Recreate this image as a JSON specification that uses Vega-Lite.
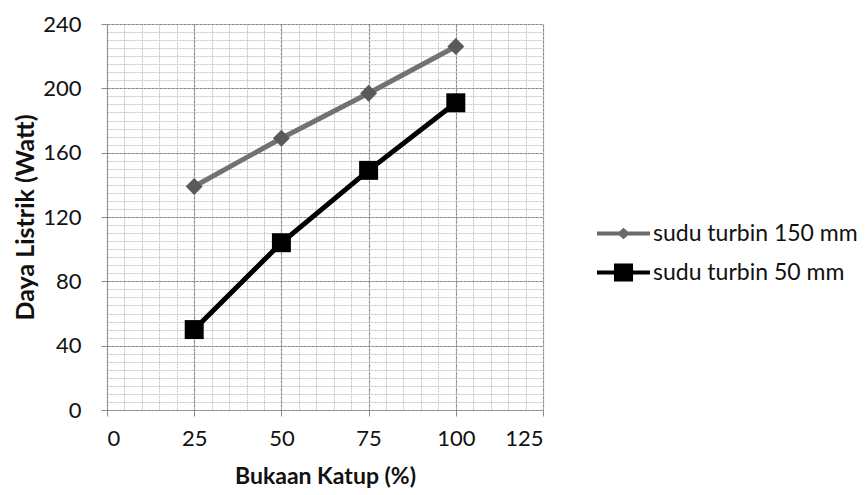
{
  "$schema": "https://vega.github.io/schema/vega-lite/v6.json",
  "width": 436,
  "height": 386,
  "autosize": {"type": "none"},
  "padding": {"left": 107, "top": 24, "right": 322, "bottom": 85},
  "background": "white",
  "config": {
    "view": {"stroke": null},
    "font": "Lato",
    "axis": {"labelFont": "Lato", "titleFont": "Lato"}
  },
  "data": {
    "values": [
      {"series": "sudu turbin 150 mm", "bukaan": 25, "daya": 139},
      {"series": "sudu turbin 150 mm", "bukaan": 50, "daya": 169},
      {"series": "sudu turbin 150 mm", "bukaan": 75, "daya": 197},
      {"series": "sudu turbin 150 mm", "bukaan": 100, "daya": 226},
      {"series": "sudu turbin 50 mm", "bukaan": 25, "daya": 50},
      {"series": "sudu turbin 50 mm", "bukaan": 50, "daya": 104},
      {"series": "sudu turbin 50 mm", "bukaan": 75, "daya": 149},
      {"series": "sudu turbin 50 mm", "bukaan": 100, "daya": 191}
    ]
  },
  "resolve": {"axis": {"x": "independent", "y": "independent"}},
  "layer": [
    {
      "transform": [{"filter": "datum.series === 'sudu turbin 150 mm'"}],
      "mark": {"type": "line", "strokeWidth": 5, "color": "#727272"},
      "encoding": {
        "x": {"field": "bukaan", "type": "quantitative", "scale": {"domain": [0, 125], "nice": false},
          "axis": {"orient": "bottom", "values": [0,5,10,15,20,25,30,35,40,45,50,55,60,65,70,75,80,85,90,95,100,105,110,115,120,125],
            "labels": false, "ticks": false, "domain": false, "title": null,
            "grid": true, "gridColor": "#c4c4c4", "gridDash": [2, 1], "gridWidth": 1}},
        "y": {"field": "daya", "type": "quantitative", "scale": {"domain": [0, 240], "nice": false},
          "axis": {"orient": "left", "values": [0,5,10,15,20,25,30,35,40,45,50,55,60,65,70,75,80,85,90,95,100,105,110,115,120,125,130,135,140,145,150,155,160,165,170,175,180,185,190,195,200,205,210,215,220,225,230,235,240],
            "labels": false, "ticks": false, "domain": false, "title": null,
            "grid": true, "gridColor": "#c4c4c4", "gridDash": [2, 1], "gridWidth": 1}}
      }
    },
    {
      "transform": [{"filter": "datum.series === 'sudu turbin 50 mm'"}],
      "mark": {"type": "line", "strokeWidth": 5, "color": "#000000"},
      "encoding": {
        "x": {"field": "bukaan", "type": "quantitative", "axis": null},
        "y": {"field": "daya", "type": "quantitative", "axis": null}
      }
    },
    {
      "transform": [{"filter": "datum.series === 'sudu turbin 150 mm'"}],
      "mark": {"type": "point", "shape": "diamond", "filled": true, "opacity": 1, "size": 289, "color": "#5a5a5a"},
      "encoding": {
        "x": {"field": "bukaan", "type": "quantitative",
          "axis": {"orient": "bottom", "values": [0, 25, 50, 75, 100, 125],
            "labelFontSize": 22, "labelColor": "#111", "labelPadding": 12,
            "ticks": true, "tickColor": "#8c8c8c", "tickSize": 6,
            "domain": true, "domainColor": "#8c8c8c", "domainDash": [3, 1],
            "grid": true, "gridColor": "#8c8c8c", "gridDash": [3, 1], "gridWidth": 1.2,
            "title": "Bukaan Katup (%)", "titleFontSize": 23, "titleFontWeight": "bold", "titleColor": "#111", "titlePadding": 16}},
        "y": {"field": "daya", "type": "quantitative",
          "axis": {"orient": "left", "values": [0, 40, 80, 120, 160, 200, 240],
            "labelFontSize": 22, "labelColor": "#111", "labelPadding": 20,
            "ticks": true, "tickColor": "#8c8c8c", "tickSize": 6,
            "domain": true, "domainColor": "#8c8c8c", "domainDash": [3, 1],
            "grid": true, "gridColor": "#8c8c8c", "gridDash": [3, 1], "gridWidth": 1.2,
            "title": "Daya Listrik (Watt)", "titleFontSize": 25, "titleFontWeight": "bold", "titleColor": "#111", "titlePadding": 4}}
      }
    },
    {
      "transform": [{"filter": "datum.series === 'sudu turbin 50 mm'"}],
      "mark": {"type": "point", "shape": "square", "filled": true, "opacity": 1, "size": 360, "color": "#000000"},
      "encoding": {
        "x": {"field": "bukaan", "type": "quantitative", "axis": null},
        "y": {"field": "daya", "type": "quantitative", "axis": null}
      }
    },
    {
      "transform": [{"filter": "datum.daya < 0"}],
      "mark": {"type": "point", "filled": true, "opacity": 1},
      "encoding": {
        "x": {"field": "bukaan", "type": "quantitative", "axis": null},
        "y": {"field": "daya", "type": "quantitative", "axis": null},
        "fill": {"field": "series", "type": "nominal",
          "scale": {"domain": ["sudu turbin 150 mm", "sudu turbin 50 mm"], "range": ["#6a6a6a", "#000000"]},
          "legend": {"orient": "none", "legendX": 490, "legendY": 183, "title": null, "padding": 0,
            "symbolSize": 2809, "symbolStrokeWidth": 0, "symbolOpacity": 1, "labelFont": "Lato", "labelFontSize": 23, "labelColor": "#111",
            "labelOffset": 3, "rowPadding": 0, "labelLimit": 400}},
        "shape": {"field": "series", "type": "nominal",
          "scale": {"domain": ["sudu turbin 150 mm", "sudu turbin 50 mm"],
            "range": ["M-1,-0.08L-0.16,-0.08L0,-0.22L0.16,-0.08L1,-0.08L1,0.08L0.16,0.08L0,0.22L-0.16,0.08L-1,0.08Z",
                      "M-1,-0.08L-0.36,-0.08L-0.36,-0.34L0.36,-0.34L0.36,-0.08L1,-0.08L1,0.08L0.36,0.08L0.36,0.34L-0.36,0.34L-0.36,0.08L-1,0.08Z"]}}
      }
    }
  ]
}
